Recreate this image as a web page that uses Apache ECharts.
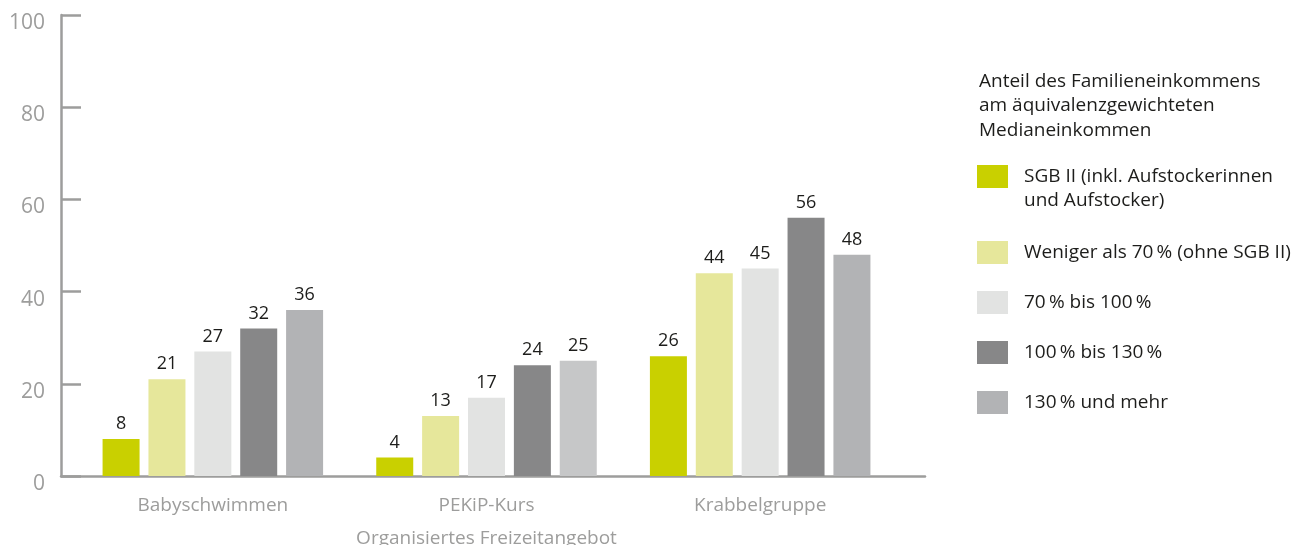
<!DOCTYPE html>
<html>
<head>
<meta charset="utf-8">
<script src="https://cdn.jsdelivr.net/npm/echarts@6/dist/echarts.min.js"></script>
<style>
  html, body { margin: 0; padding: 0; background: #fff; }
  #main { width: 1292px; height: 545px; }
</style>
</head>
<body>
<div id="main"></div>
<script>
var chartDom = document.getElementById('main');
var myChart = echarts.init(chartDom);
var option;

// data
var categories = ['Babyschwimmen', 'PEKiP-Kurs', 'Krabbelgruppe'];
var seriesNames = [
    'SGB II (inkl. Aufstockerinnen und Aufstocker)',
    'Weniger als 70\u2009% (ohne SGB II)',
    '70\u2009% bis 100\u2009%',
    '100\u2009% bis 130\u2009%',
    '130\u2009% und mehr'
];
var sgb = [8, 4, 26];
var unter70 = [21, 13, 44];
var bis100 = [27, 17, 45];
var bis130 = [32, 24, 56];
var ueber130 = [36, 25, 48];
var yTicks = [0, 20, 40, 60, 80, 100];

var colors = ['#c9d000', '#e6e79b', '#e2e3e2', '#878788', '#b2b3b5'];
var axisGrey = '#9d9d9c';
var textDark = '#1d1d1b';
var font = 'Open Sans';

var values = [sgb, unter70, bis100, bis130, ueber130];

var series = values.map(function (vals, i) {
    return {
        name: seriesNames[i],
        type: 'bar',
        xAxisIndex: 0,
        yAxisIndex: 0,
        barWidth: 37,
        barGap: '24%',
        itemStyle: { color: colors[i] },
        label: {
            show: true,
            position: 'top',
            distance: 6,
            color: textDark,
            fontSize: 18,
            fontFamily: font
        },
        data: vals.map(function (v, j) {
            // the PEKiP bar of the last group is a bit lighter in the original
            if (i === 4 && j === 1) {
                return { value: v, itemStyle: { color: '#c6c7c8' } };
            }
            return v;
        })
    };
});

var legendBase = {
    orient: 'vertical',
    left: 977,
    padding: 0,
    itemWidth: 31,
    itemHeight: 23,
    itemGap: 27,
    icon: 'rect',
    selectedMode: false,
    textStyle: {
        color: textDark,
        fontSize: 19,
        fontFamily: font,
        padding: [0, 0, 0, 11]
    }
};

option = {
    animation: false,
    title: [
        {
            text: 'Anteil des Familieneinkommens\nam äquivalenzgewichteten\nMedianeinkommen',
            left: 979,
            top: 69,
            padding: 0,
            textStyle: {
                color: textDark,
                fontSize: 19,
                fontWeight: 'normal',
                fontFamily: font,
                lineHeight: 24.5
            }
        },
        {
            // second line of the SGB II legend entry
            text: 'und Aufstocker)',
            left: 1024,
            top: 189,
            padding: 0,
            textStyle: {
                color: textDark,
                fontSize: 19,
                fontWeight: 'normal',
                fontFamily: font,
                lineHeight: 23
            }
        }
    ],
    legend: [
        Object.assign({}, legendBase, {
            top: 165,
            data: [seriesNames[0]],
            formatter: function () { return 'SGB II (inkl. Aufstockerinnen'; }
        }),
        Object.assign({}, legendBase, {
            top: 241,
            data: seriesNames.slice(1)
        })
    ],
    grid: [
        { left: 76, right: 395, top: 15, bottom: 69, containLabel: false, outerBoundsMode: 'none' },
        { left: 61, right: 367, top: 15, bottom: 69, containLabel: false, outerBoundsMode: 'none' }
    ],
    xAxis: [
        {
            type: 'category',
            gridIndex: 0,
            data: categories,
            axisLine: { show: false },
            axisTick: { show: false },
            axisLabel: {
                color: axisGrey,
                fontSize: 19,
                fontFamily: font,
                margin: 20
            },
            name: 'Organisiertes Freizeitangebot',
            nameLocation: 'middle',
            nameGap: 53,
            nameTextStyle: {
                color: axisGrey,
                fontSize: 19,
                fontFamily: font
            }
        },
        {
            type: 'category',
            gridIndex: 1,
            data: categories,
            axisLine: { show: true, lineStyle: { color: axisGrey, width: 2.5 } },
            axisTick: { show: false },
            axisLabel: { show: false }
        }
    ],
    yAxis: [
        {
            type: 'value',
            gridIndex: 0,
            min: 0,
            max: 100,
            interval: 20,
            show: false
        },
        {
            type: 'value',
            gridIndex: 1,
            min: yTicks[0],
            max: yTicks[yTicks.length - 1],
            interval: yTicks[1] - yTicks[0],
            axisLine: { show: true, lineStyle: { color: axisGrey, width: 2.5 } },
            axisTick: {
                show: true,
                inside: true,
                length: 20,
                lineStyle: { color: axisGrey, width: 2.5 }
            },
            splitLine: { show: false },
            axisLabel: {
                color: axisGrey,
                fontSize: 21,
                fontFamily: font,
                margin: 16,
                verticalAlign: 'top',
                lineHeight: 16
            }
        }
    ],
    series: series
};

option && myChart.setOption(option);
</script>
</body>
</html>
